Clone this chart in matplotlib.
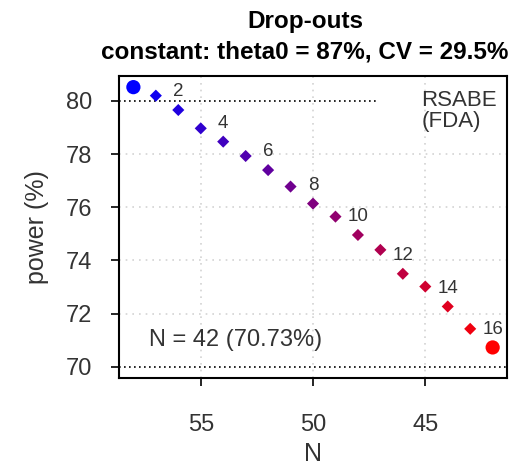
import matplotlib

matplotlib.use("Agg")

import matplotlib.pyplot as plt
from matplotlib.colors import LinearSegmentedColormap

plt.rcParams["font.family"] = ["Liberation Sans", "DejaVu Sans"]

# power by total sample size as subjects drop out
n_subjects = [58, 57, 56, 55, 54, 53, 52, 51, 50, 49, 48, 47, 46, 45, 44, 43, 42]
power_pct = [80.52, 80.20, 79.66, 78.97, 78.47, 77.93, 77.40, 76.78, 76.14,
             75.65, 74.96, 74.40, 73.50, 73.02, 72.27, 71.43, 70.73]
dropouts = [58 - n for n in n_subjects]
target_power = 80
x_ticks = [55, 50, 45]
y_ticks = [70, 72, 74, 76, 78, 80]

ramp = LinearSegmentedColormap.from_list("ramp", ["#0000FF", "#FF0000"])
colours = [ramp(i / (len(n_subjects) - 1)) for i in range(len(n_subjects))]

fig = plt.figure(figsize=(5.17, 4.69), dpi=100)
ax = fig.add_axes([0.2302, 0.194, 0.7505, 0.644])

ax.set_xlim(58.64, 41.36)
ax.set_ylim(69.58, 80.94)

for x in x_ticks:
    ax.axvline(x, color="#d3d3d3", lw=1.2, ls=(0, (1, 3)), zorder=0)
for y in y_ticks[1:-1]:
    ax.axhline(y, color="#d3d3d3", lw=1.2, ls=(0, (1, 3)), zorder=0)

ax.plot([58.64, 47.15], [target_power, target_power], color="black", lw=1.2,
        ls=(0, (1, 2)), zorder=1)
ax.axhline(70, color="black", lw=1.2, ls=(0, (1, 2)), zorder=1)

ax.scatter(n_subjects[1:-1], power_pct[1:-1], c=colours[1:-1], marker="D",
           s=38, linewidths=0, zorder=3)
ax.scatter([n_subjects[0], n_subjects[-1]], [power_pct[0], power_pct[-1]],
           c=[colours[0], colours[-1]], marker="o", s=105, linewidths=0, zorder=3)

for n, p, d in zip(n_subjects, power_pct, dropouts):
    if d > 0 and d % 2 == 0:
        ax.annotate(str(d), (n, p), xytext=(0, 7), textcoords="offset points",
                    ha="center", va="bottom", fontsize=13.5, color="#333333")

ax.text(45.18, 80.4, "RSABE\n(FDA)", ha="left", va="top", fontsize=16,
        color="#333333", linespacing=0.95)
ax.text(57.32, 71.0, f"N = {n_subjects[-1]} ({power_pct[-1]:.2f}%)", ha="left",
        va="center", fontsize=17, color="#333333")

ax.set_xticks(x_ticks)
ax.set_yticks(y_ticks)
ax.tick_params(axis="both", direction="out", length=6, width=1.2,
               labelsize=17, colors="black", labelcolor="#333333")
ax.tick_params(axis="x", pad=20)
ax.tick_params(axis="y", pad=13)
for spine in ax.spines.values():
    spine.set_linewidth(1.5)

ax.set_xlabel("N", fontsize=18, color="#333333", labelpad=4)
ax.set_ylabel("power (%)", fontsize=18, color="#333333", labelpad=12)

fig.text(0.59, 0.955, "Drop-outs", ha="center", va="center",
         fontsize=17.5, fontweight="bold")
fig.text(0.59, 0.889, "constant: theta0 = 87%, CV = 29.5%", ha="center",
         va="center", fontsize=17.5, fontweight="bold")

fig.savefig("out.png", dpi=100)
